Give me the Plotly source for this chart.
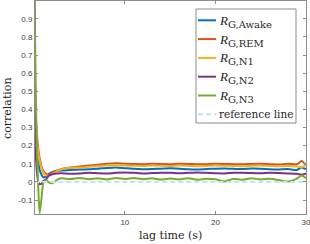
import plotly.graph_objects as go

lag = [0.0, 0.1, 0.2, 0.3, 0.4, 0.5, 0.6, 0.8, 1.0, 1.3, 1.6, 2.0, 2.5, 3, 4, 5, 6, 7, 8, 9, 10,
       11, 12, 13, 14, 15, 16, 17, 18, 19, 20, 21, 22, 23, 24, 25, 26, 27, 28, 29, 29.5, 30]

r_awake = [1.0, 0.35, 0.21, 0.15, 0.115, 0.09, 0.065, 0.04, 0.026, 0.03, 0.045, 0.055, 0.06, 0.063,
           0.066, 0.068, 0.07, 0.072, 0.077, 0.08, 0.076, 0.072, 0.07, 0.071, 0.073, 0.075, 0.073,
           0.07, 0.069, 0.071, 0.073, 0.074, 0.072, 0.071, 0.074, 0.073, 0.07, 0.069, 0.071, 0.066,
           0.08, 0.07]
r_rem = [1.0, 0.45, 0.33, 0.26, 0.2, 0.16, 0.13, 0.085, 0.06, 0.045, 0.04, 0.05, 0.062, 0.072,
         0.08, 0.085, 0.09, 0.095, 0.1, 0.103, 0.1, 0.099, 0.098, 0.1, 0.099, 0.098, 0.1, 0.099,
         0.097, 0.098, 0.1, 0.099, 0.098, 0.097, 0.099, 0.1, 0.098, 0.096, 0.1, 0.097, 0.115, 0.09]
r_n1 = [1.0, 0.42, 0.3, 0.23, 0.18, 0.14, 0.115, 0.075, 0.05, 0.037, 0.035, 0.045, 0.058, 0.07,
        0.078, 0.08, 0.083, 0.087, 0.09, 0.092, 0.09, 0.089, 0.088, 0.09, 0.089, 0.088, 0.09,
        0.089, 0.087, 0.088, 0.09, 0.089, 0.088, 0.087, 0.089, 0.09, 0.088, 0.086, 0.088, 0.085,
        0.08, 0.095]
r_n2 = [1.0, 0.3, 0.12, 0.05, 0.01, -0.008, -0.013, -0.01, 0.005, 0.015, 0.035, 0.042, 0.047,
        0.048, 0.045, 0.047, 0.05, 0.048, 0.046, 0.05, 0.052, 0.05, 0.047, 0.049, 0.051, 0.05,
        0.048, 0.05, 0.052, 0.05, 0.048, 0.047, 0.05, 0.051, 0.049, 0.048, 0.05, 0.049, 0.047,
        0.045, 0.04, 0.045]
r_n3 = [1.0, 0.75, 0.4, 0.18, 0.02, -0.1, -0.172, -0.09, -0.007, 0.011, -0.003, -0.007, 0.011,
        0.02, 0.016, 0.022, 0.015, 0.02, 0.014, 0.021, 0.016, 0.022, 0.015, 0.02, 0.013, 0.019,
        0.014, 0.02, 0.012, 0.018, 0.015, 0.002, 0.018, 0.012, 0.02, 0.014, 0.018, 0.01, 0.002,
        0.018, 0.035, 0.02]

ref_x = [0.0, 30]
ref_y = [0.0, 0.0]

stage_labels = ["G,Awake", "G,REM", "G,N1", "G,N2", "G,N3"]
ref_label = "reference line"
series = [r_awake, r_rem, r_n1, r_n2, r_n3]
colors = ["#0072BD", "#D95319", "#EDB120", "#7E2F8E", "#77AC30"]
ref_color = "#BFE5F7"

x_ticks = [10, 20, 30]
y_ticks = [-0.1, 0, 0.1, 0.2, 0.3, 0.4, 0.5, 0.6, 0.7, 0.8, 0.9]
y_tick_text = ["-0.1", "0", "0.1", "0.2", "0.3", "0.4", "0.5", "0.6", "0.7", "0.8", "0.9"]

# plot-area geometry in pixels
W, H = 310, 244
L, R, T, B = 35, 4, 1, 30
PW, PH = W - L - R, H - T - B


def px(x):
    return (x - L) / PW


def py(y):
    return (H - B - y) / PH


fig = go.Figure()
for nm, ys, c in zip(stage_labels, series, colors):
    fig.add_trace(go.Scatter(x=lag, y=ys, mode="lines", name=nm, showlegend=False,
                             line=dict(color=c, width=2, shape="spline", smoothing=0.6)))
fig.add_trace(go.Scatter(x=ref_x, y=ref_y, mode="lines", name=ref_label, showlegend=False,
                         line=dict(color=ref_color, width=2, dash="5px,3px")))

axis_common = dict(showgrid=False, zeroline=False, showline=True, linecolor="#8c8c8c",
                   linewidth=1, mirror="ticks", ticks="inside", ticklen=3, automargin=False,
                   tickcolor="#8c8c8c", ticklabeloverflow="allow",
                   tickfont=dict(family="Liberation Sans", size=8, color="#404040"))

serif = "DejaVu Serif"
annotations = [
    dict(text="lag time (s)", x=px(170), y=py(235), xref="paper", yref="paper",
         xanchor="center", yanchor="middle", showarrow=False,
         font=dict(family=serif, size=11, color="#262626")),
    dict(text="correlation", x=px(8), y=py(108), xref="paper", yref="paper",
         xanchor="center", yanchor="middle", showarrow=False, textangle=-90,
         font=dict(family=serif, size=11, color="#262626")),
]

# legend (box, samples, labels)
box = dict(type="rect", xref="paper", yref="paper", x0=px(196), x1=px(296), y0=py(123), y1=py(9),
           line=dict(color="#8c8c8c", width=1), fillcolor="white", layer="above")
shapes = [box]
row_y = [20.3 + 18.8 * i for i in range(6)]
for i, (lab, c) in enumerate(zip(stage_labels, colors)):
    yy = row_y[i]
    shapes.append(dict(type="line", xref="paper", yref="paper", x0=px(198), x1=px(216),
                       y0=py(yy), y1=py(yy), line=dict(color=c, width=2), layer="above"))
    annotations.append(dict(
        text="<i>R</i><sub><span style='font-family:DejaVu Serif;font-size:10px'>" + lab + "</span></sub>",
        x=px(217), y=py(yy + 1), xref="paper", yref="paper",
        xanchor="left", yanchor="middle", showarrow=False,
        font=dict(family="Liberation Serif", size=13, color="#262626")))
yy = row_y[5]
shapes.append(dict(type="line", xref="paper", yref="paper", x0=px(198), x1=px(216),
                   y0=py(yy), y1=py(yy), line=dict(color=ref_color, width=2, dash="5px,3px"),
                   layer="above"))
annotations.append(dict(text=ref_label, x=px(217), y=py(yy), xref="paper", yref="paper",
                        xanchor="left", yanchor="middle", showarrow=False,
                        font=dict(family=serif, size=10.5, color="#262626")))

fig.update_layout(
    width=W, height=H,
    margin=dict(l=L, r=R, t=T, b=B, autoexpand=False),
    paper_bgcolor="white", plot_bgcolor="white",
    xaxis=dict(range=[0.08, 30], tickvals=x_ticks, **axis_common),
    yaxis=dict(range=[-0.177, 0.998], tickvals=y_ticks, ticktext=y_tick_text, **axis_common),
    shapes=shapes,
    annotations=annotations,
    showlegend=False,
)

fig.write_html("out.html", config={"displayModeBar": False},
               post_script="document.body.style.margin='0';document.body.style.overflow='hidden';")
